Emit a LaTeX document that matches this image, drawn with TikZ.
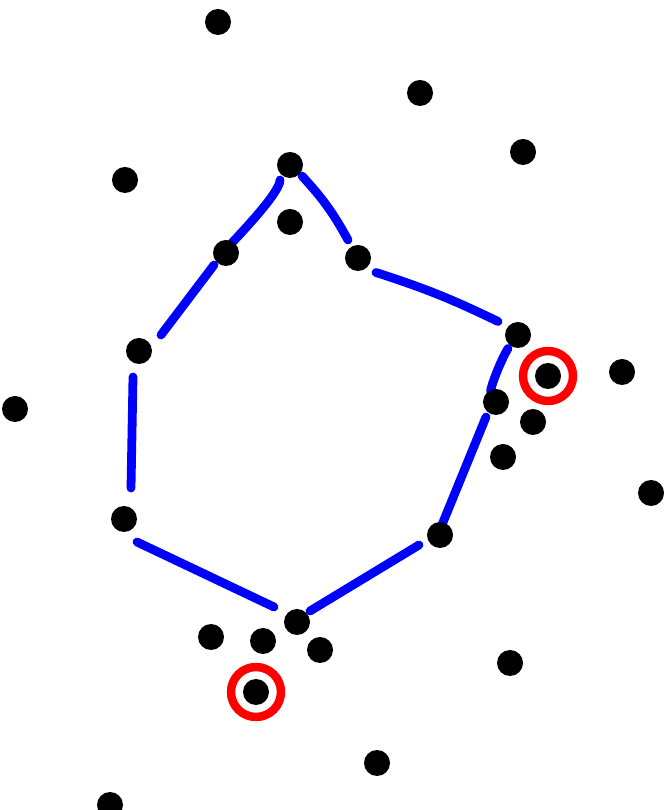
\documentclass[tikz,border=0pt]{standalone}
\usetikzlibrary{backgrounds}
\definecolor{ink}{HTML}{000000}
\definecolor{penblue}{HTML}{0000FF}
\definecolor{penred}{HTML}{FF0000}
\tikzset{
dot/.style={circle,fill=ink,inner sep=0pt,outer sep=0pt,minimum size=.52cm},
stroke/.style={draw=penblue,line width=5pt,line cap=round},
ring/.style={draw=penred,line width=4.8pt}}
\begin{document}
\begin{tikzpicture}[x=.02cm,y=.02cm]
\useasboundingbox (0,0) rectangle (667,810);
\node[dot] (p1) at (218,788) {};
\node[dot] (p2) at (420,717) {};
\node[dot] (p3) at (523,658) {};
\node[dot] (p4) at (290,645) {};
\node[dot] (p5) at (125,630) {};
\node[dot] (p6) at (290,588) {};
\node[dot] (p7) at (226,557) {};
\node[dot] (p8) at (358,552) {};
\node[dot] (p9) at (518,475) {};
\node[dot] (p10) at (139,459) {};
\node[dot] (p11) at (622,438) {};
\node[dot] (p12) at (548,434) {};
\node[dot] (p13) at (496,408) {};
\node[dot] (p14) at (15,401) {};
\node[dot] (p15) at (533,388) {};
\node[dot] (p16) at (503,353) {};
\node[dot] (p17) at (651,317) {};
\node[dot] (p18) at (124,291) {};
\node[dot] (p19) at (440,275) {};
\node[dot] (p20) at (297,188) {};
\node[dot] (p21) at (211,173) {};
\node[dot] (p22) at (263,169) {};
\node[dot] (p23) at (320,160) {};
\node[dot] (p24) at (510,147) {};
\node[dot] (p25) at (256,118) {};
\node[dot] (p26) at (377,47) {};
\node[dot] (p27) at (110,5) {};
\begin{scope}[on background layer]
\draw[stroke] ([shift={(-10,-15)}]p4.center) to[out=-90,in=48,looseness=.4] ([shift={(4,8)}]p7.center);
\draw[stroke] ([shift={(-12,-12)}]p7.center) -- ([shift={(22,16)}]p10.center);
\draw[stroke] ([shift={(-6,-26)}]p10.center) -- ([shift={(7,31)}]p18.center);
\draw[stroke] ([shift={(13,-23)}]p18.center) -- ([shift={(-23,15)}]p20.center);
\draw[stroke] ([shift={(13,11)}]p20.center) -- ([shift={(-21,-10)}]p19.center);
\draw[stroke] ([shift={(1.5,9)}]p19.center) -- ([shift={(-10,-15)}]p13.center);
\draw[stroke] ([shift={(-5.5,11)}]p13.center) to[out=78,in=238,looseness=.6] ([shift={(-10,-13.5)}]p9.center);
\draw[stroke] ([shift={(-20,13.5)}]p9.center) to[bend right=4] ([shift={(18,-14.5)}]p8.center);
\draw[stroke] ([shift={(-10,18)}]p8.center) to[bend right=7] ([shift={(12,-11)}]p4.center);
\end{scope}
\draw[ring] (p12.center) circle[radius=25];
\draw[ring] (p25.center) circle[radius=25];
\end{tikzpicture}
\end{document}
